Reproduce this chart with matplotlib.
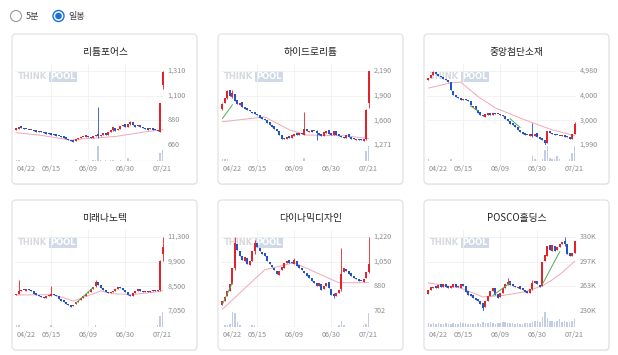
import numpy as np
import matplotlib
matplotlib.use("Agg")
import matplotlib.pyplot as plt
from matplotlib.patches import FancyBboxPatch, Circle
from matplotlib.transforms import blended_transform_factory

plt.rcParams['font.family'] = ['Noto Sans CJK KR', 'DejaVu Sans']

W, H = 618, 355

# x axis (trading days 04/22 .. 07/21)
tick_idx = [0, 14, 29, 44, 59]
tick_lbl = ["04/22", "05/15", "06/09", "06/30", "07/21"]

# 리튬포어스
lf_open = [795, 803, 818, 810, 802, 796, 788, 793, 786, 776,
           782, 771, 766, 762, 756, 753, 749, 743, 739, 733,
           726, 716, 706, 696, 692, 712, 720, 729, 733, 736,
           727, 724, 740, 760, 737, 747, 764, 750, 772, 792,
           812, 788, 802, 826, 842, 818, 843, 860, 836, 824,
           834, 816, 806, 801, 797, 803, 796, 790, 776, 1190]
lf_close = [805, 815, 812, 800, 798, 790, 792, 785, 778, 780,
            770, 765, 760, 755, 752, 748, 742, 738, 732, 725,
            715, 705, 695, 690, 712, 718, 728, 732, 735, 726,
            722, 738, 745, 735, 745, 762, 748, 770, 790, 815,
            785, 800, 828, 840, 815, 845, 862, 838, 822, 835,
            818, 808, 800, 796, 805, 795, 792, 785, 1025, 1300]
lf_wick = {33: (990, 725), 39: (822, 785), 46: (872, 840), 58: (1030, 770), 59: (1310, 1150)}
lf_vol = [1, 1, 0, 0, 0, 0, 0, 0, 0, 0, 0, 0, 0, 0, 0, 0, 0, 0, 0, 0,
          0, 0, 0, 0, 1, 0, 0, 0, 0, 0, 0, 1, 1, 11, 1, 0, 1, 0, 1, 1,
          0, 0, 1, 0, 0, 2, 1, 0, 0, 0, 0, 0, 0, 0, 0, 0, 0, 1, 6, 8]
lf_ma_x = [0, 10, 22, 26, 40, 52, 59]
lf_ma_y = [768, 745, 702, 712, 735, 775, 795]
lf_gr_x = []
lf_gr_y = []
lf_labels = ["1,310", "1,100", "880", "660"]
lf_range = (660, 1310)

# 하이드로리튬
hl_open = [1720, 1790, 1850, 1950, 1870, 1910, 1830, 1770, 1800, 1745,
           1725, 1705, 1685, 1675, 1655, 1645, 1615, 1600, 1585, 1555,
           1525, 1505, 1470, 1440, 1400, 1355, 1340, 1380, 1355, 1385,
           1415, 1395, 1425, 1400, 1470, 1435, 1455, 1440, 1450, 1425,
           1405, 1380, 1425, 1455, 1415, 1390, 1445, 1405, 1385, 1375,
           1355, 1405, 1375, 1355, 1335, 1350, 1340, 1325, 1340, 1790]
hl_close = [1780, 1860, 1940, 1880, 1920, 1820, 1780, 1790, 1740, 1720,
            1700, 1690, 1670, 1660, 1640, 1610, 1600, 1580, 1550, 1520,
            1500, 1470, 1440, 1400, 1350, 1340, 1375, 1360, 1390, 1410,
            1400, 1420, 1405, 1470, 1440, 1450, 1430, 1445, 1420, 1400,
            1380, 1430, 1450, 1410, 1395, 1440, 1400, 1380, 1370, 1355,
            1400, 1370, 1350, 1340, 1345, 1335, 1330, 1335, 1700, 2190]
hl_wick = {0: (1790, 1700), 2: (1960, 1840), 4: (1950, 1860), 33: (1680, 1395),
           38: (1455, 1330), 58: (1720, 1330), 59: (2190, 1730)}
hl_vol = [1, 1, 1, 0, 0, 0, 0, 0, 0, 0, 0, 0, 0, 0, 0, 0, 0, 0, 0, 0,
          0, 0, 0, 0, 0, 0, 0, 0, 0, 0, 0, 0, 0, 2, 0, 0, 0, 0, 0, 0,
          0, 0, 0, 0, 0, 0, 0, 0, 0, 0, 0, 0, 0, 0, 0, 0, 0, 0, 6, 9]
hl_ma_x = [0, 17, 27, 34, 50, 59]
hl_ma_y = [1560, 1620, 1460, 1395, 1385, 1350]
hl_gr_x = [0, 4]
hl_gr_y = [1600, 1770]
hl_labels = ["2,190", "1,900", "1,600", "1,271"]
hl_range = (1271, 2190)

# 중앙첨단소재
ja_open = [4600, 4700, 4820, 4950, 4850, 4790, 4720, 4660, 4610, 4540,
           4180, 4010, 3930, 3890, 3800, 3860, 3810, 3760, 3530, 3560,
           3410, 3310, 3210, 3140, 3220, 3260, 3210, 3280, 3230, 3260,
           3210, 3150, 3060, 2960, 2860, 2810, 2730, 2610, 2510, 2460,
           2410, 2370, 2450, 2350, 2460, 2310, 2260, 2190, 2080, 2570,
           2490, 2420, 2410, 2370, 2340, 2410, 2340, 2310, 2240, 2440]
ja_close = [4700, 4820, 4930, 4850, 4780, 4720, 4650, 4600, 4550, 4200,
            4000, 3920, 3880, 3820, 3850, 3800, 3760, 3600, 3550, 3400,
            3300, 3200, 3150, 3230, 3250, 3220, 3270, 3240, 3250, 3200,
            3150, 3050, 2950, 2850, 2800, 2720, 2600, 2500, 2450, 2400,
            2380, 2420, 2350, 2450, 2300, 2250, 2180, 2090, 2560, 2480,
            2430, 2400, 2380, 2350, 2400, 2330, 2300, 2250, 2450, 2850]
ja_wick = {2: (4980, 4800), 42: (2880, 2330), 47: (2120, 1990), 59: (2900, 2430)}
ja_vol = [1, 0, 0, 0, 0, 0, 0, 0, 0, 1, 0, 0, 0, 0, 0, 0, 0, 0, 0, 0,
          0, 0, 0, 0, 0, 0, 0, 0, 0, 0, 0, 0, 0, 0, 0, 0, 0, 0, 0, 0,
          0, 0, 3, 1, 0, 0, 1, 7, 10, 2, 1, 1, 3, 1, 0, 0, 0, 1, 5, 10]
ja_ma_x = [0, 9, 13, 20, 27, 38, 50, 59]
ja_ma_y = [4290, 4500, 4530, 3950, 3490, 3040, 2600, 2370]
ja_gr_x = [17, 20, np.nan, 33, 37]
ja_gr_y = [3560, 3380, np.nan, 3050, 2700]
ja_labels = ["4,980", "4,000", "3,000", "1,990"]
ja_range = (1990, 4980)

# 미래나노텍
mn_open = [7950, 8050, 8200, 8260, 8220, 8290, 8230, 8170, 8060, 7990,
           7910, 7860, 7790, 7890, 7940, 8030, 7960, 7900, 7760, 7660,
           7560, 7460, 7390, 7310, 7430, 7560, 7660, 7790, 7910, 8060,
           8160, 8310, 8460, 8710, 8560, 8360, 8260, 8160, 8090, 8130,
           8210, 8290, 8430, 8390, 8260, 8160, 7990, 7890, 8110, 8190,
           8310, 8210, 8140, 8190, 8140, 8210, 8240, 8170, 8260, 10300]
mn_close = [8050, 8200, 8250, 8230, 8280, 8240, 8180, 8050, 7980, 7900,
            7850, 7800, 7900, 7950, 8020, 7950, 7900, 7750, 7650, 7550,
            7450, 7380, 7300, 7420, 7550, 7650, 7780, 7900, 8050, 8150,
            8300, 8450, 8700, 8550, 8350, 8250, 8150, 8100, 8120, 8200,
            8300, 8420, 8380, 8250, 8150, 7980, 7900, 8100, 8200, 8300,
            8200, 8150, 8180, 8150, 8200, 8230, 8180, 8250, 9950, 10750]
mn_wick = {1: (8830, 8000), 14: (8500, 7950), 32: (8850, 8450), 58: (10000, 8200), 59: (11300, 9900)}
mn_vol = [1, 1, 0, 0, 0, 0, 0, 0, 0, 0, 0, 0, 0, 0, 1, 0, 0, 0, 0, 0,
          0, 0, 0, 0, 0, 0, 0, 0, 0, 0, 0, 0, 1, 0, 0, 0, 0, 0, 0, 0,
          0, 0, 0, 0, 0, 0, 0, 0, 0, 0, 0, 0, 0, 0, 0, 0, 0, 1, 7, 10]
mn_ma_x = [0, 15, 23, 34, 40, 47, 57, 59]
mn_ma_y = [7970, 7990, 7620, 8200, 8030, 8000, 8150, 8220]
mn_gr_x = [24, 31]
mn_gr_y = [7500, 8400]
mn_labels = ["11,300", "9,900", "8,500", "7,050"]
mn_range = (7050, 11300)

# 다이나믹디자인
dd_open = [745, 770, 805, 845, 890, 1000, 1170, 1125, 1085, 1055,
           1075, 1025, 1055, 1120, 1175, 1145, 1115, 1105, 1085, 1045,
           1025, 1005, 985, 955, 990, 1005, 1035, 1060, 1045, 1030,
           1055, 1025, 1005, 985, 965, 955, 935, 910, 895, 875,
           890, 855, 875, 905, 855, 820, 810, 825, 855, 975,
           995, 985, 965, 945, 935, 920, 915, 905, 930, 975]
dd_close = [775, 800, 840, 890, 1000, 1180, 1130, 1090, 1060, 1080,
            1030, 1050, 1120, 1180, 1150, 1120, 1100, 1090, 1050, 1030,
            1010, 990, 960, 985, 1010, 1040, 1055, 1040, 1035, 1060,
            1020, 1000, 990, 970, 950, 930, 915, 900, 880, 895,
            850, 880, 900, 860, 815, 805, 830, 850, 960, 1000,
            980, 960, 950, 935, 925, 915, 910, 925, 975, 1030]
dd_wick = {5: (1220, 990), 13: (1200, 1100), 29: (1075, 1030), 45: (830, 790),
           48: (1143, 845), 59: (1220, 965)}
dd_vol = [0, 1, 1, 2, 10, 9, 3, 1, 0, 0, 0, 0, 1, 1, 0, 0, 0, 0, 0, 0,
          0, 0, 0, 0, 0, 0, 0, 0, 0, 0, 0, 0, 0, 0, 0, 0, 0, 0, 0, 0,
          0, 0, 0, 0, 0, 0, 0, 1, 4, 1, 0, 0, 0, 0, 0, 0, 0, 1, 2, 9]
dd_ma_x = [0, 17, 29, 47, 59]
dd_ma_y = [715, 990, 1040, 900, 900]
dd_gr_x = [0, 4]
dd_gr_y = [750, 900]
dd_labels = ["1,220", "1,050", "880", "702"]
dd_range = (702, 1220)

# POSCO홀딩스 (천원)
ph_open = [253, 258, 261, 264, 261, 266, 262, 267, 264, 261,
           263, 267, 264, 261, 267, 264, 257, 253, 251, 248,
           246, 244, 241, 235, 243, 250, 257, 261, 253, 249,
           254, 261, 266, 270, 266, 264, 261, 264, 261, 259,
           257, 255, 260, 268, 271, 265, 264, 297, 305, 319,
           311, 318, 313, 316, 321, 324, 320, 308, 304, 309]
ph_close = [258, 262, 263, 261, 265, 263, 266, 263, 261, 264,
            266, 263, 262, 267, 264, 256, 252, 250, 247, 245,
            243, 240, 234, 243, 250, 257, 261, 252, 248, 254,
            261, 266, 269, 265, 264, 262, 263, 260, 259, 256,
            255, 260, 268, 270, 266, 262, 296, 306, 318, 312,
            319, 311, 316, 321, 323, 320, 307, 304, 309, 324]
ph_wick = {22: (236, 230), 32: (274, 265), 42: (272, 258), 55: (330, 318)}
ph_vol = [3, 2, 3, 2, 3, 2, 2, 3, 2, 2, 3, 2, 2, 4, 3, 3, 2, 2, 2, 2,
          3, 2, 4, 3, 3, 4, 3, 2, 3, 3, 4, 4, 3, 3, 3, 2, 3, 2, 2, 3,
          3, 3, 4, 5, 5, 4, 8, 12, 7, 5, 5, 4, 5, 6, 4, 5, 4, 4, 5, 6]
ph_ma_x = [0, 13, 22, 30, 39, 46, 50, 54, 59]
ph_ma_y = [268, 261, 249, 251, 256, 264, 272, 282, 297]
ph_gr_x = [26, 33, np.nan, 46, 53]
ph_gr_y = [251, 268, np.nan, 266, 310]
ph_labels = ["330K", "297K", "263K", "230K"]
ph_range = (230, 330)

charts = [
    ("리튬포어스", lf_open, lf_close, lf_wick, lf_vol, lf_ma_x, lf_ma_y, lf_gr_x, lf_gr_y, lf_labels, lf_range),
    ("하이드로리튬", hl_open, hl_close, hl_wick, hl_vol, hl_ma_x, hl_ma_y, hl_gr_x, hl_gr_y, hl_labels, hl_range),
    ("중앙첨단소재", ja_open, ja_close, ja_wick, ja_vol, ja_ma_x, ja_ma_y, ja_gr_x, ja_gr_y, ja_labels, ja_range),
    ("미래나노텍", mn_open, mn_close, mn_wick, mn_vol, mn_ma_x, mn_ma_y, mn_gr_x, mn_gr_y, mn_labels, mn_range),
    ("다이나믹디자인", dd_open, dd_close, dd_wick, dd_vol, dd_ma_x, dd_ma_y, dd_gr_x, dd_gr_y, dd_labels, dd_range),
    ("POSCO홀딩스", ph_open, ph_close, ph_wick, ph_vol, ph_ma_x, ph_ma_y, ph_gr_x, ph_gr_y, ph_labels, ph_range),
]

RED = '#e4222a'
BLUE = '#2453c9'
GRID = '#f0f0f0'
LBL = '#8c8c8c'

fig = plt.figure(figsize=(W / 100, H / 100), dpi=100)
fig.patch.set_facecolor('white')

# background layer in pixel coords
bg = fig.add_axes([0, 0, 1, 1])
bg.set_xlim(0, W)
bg.set_ylim(H, 0)
bg.axis('off')

# radio buttons
bg.add_patch(Circle((16, 16), 5.5, fc='white', ec='#9a9a9a', lw=0.8))
bg.text(26, 16.5, "5분", fontsize=6.5, color='#444444', va='center')
bg.add_patch(Circle((58.5, 16), 5.5, fc='white', ec='#1a6fdc', lw=1.0))
bg.add_patch(Circle((58.5, 16), 3.3, fc='#1a6fdc', ec='none'))
bg.text(68, 16.5, "일봉", fontsize=6.5, color='#444444', va='center')


def px_axes(l, t, w, h):
    return fig.add_axes([l / W, 1 - (t + h) / H, w / W, h / H])


card_x = [12, 218, 424]
card_y = [34, 200]

for k, (name, op, cl, wick, vol, ma_x, ma_y, gr_x, gr_y, labels, (lo, hi)) in enumerate(charts):
    cx = card_x[k % 3]
    cy = card_y[k // 3]

    bg.add_patch(FancyBboxPatch((cx + 0.6, cy + 1.0), 185, 150,
                                boxstyle="round,pad=0,rounding_size=4",
                                fc='#f0f0f0', ec='none', zorder=0))
    bg.add_patch(FancyBboxPatch((cx, cy), 185, 150,
                                boxstyle="round,pad=0,rounding_size=4",
                                fc='white', ec='#e0e0e0', lw=0.8, zorder=1))
    bg.text(cx + 93, cy + 18, name, ha='center', va='center',
            fontsize=7, color='#222222', zorder=2)

    # watermark
    bg.text(cx + 5.5, cy + 42.5, "THINK", fontsize=6, fontweight='bold',
            color='#d6dae0', va='center', family='DejaVu Sans', zorder=2)
    bg.text(cx + 38.5, cy + 42.5, "POOL", fontsize=6, fontweight='bold',
            color='white', va='center', family='DejaVu Sans', zorder=2,
            bbox=dict(fc='#cfd9e7', ec='none', pad=0.8))

    # price area
    ax = px_axes(cx + 3, cy + 30, 149, 81)
    per_px = (hi - lo) / 74.0
    ax.set_ylim(lo, hi + per_px * 7)
    ax.set_xlim(-0.6, 59.6)
    ax.axis('off')

    levels = np.linspace(hi, lo, 4)
    for v in levels[:-1]:
        ax.axhline(v, color=GRID, lw=0.6, zorder=0)
    ax.axhline(lo, color='#d6d6d6', lw=0.7, zorder=0)
    for t in tick_idx[1:4]:
        ax.axvline(t, color=GRID, lw=0.6, zorder=0)

    tr = blended_transform_factory(ax.transAxes, ax.transData)
    for v, s in zip(levels, labels):
        ax.text(1.025, v, s, transform=tr, fontsize=5.2, color=LBL,
                va='center', ha='left', clip_on=False)

    x = np.arange(len(cl))
    o = np.array(op, float)
    c = np.array(cl, float)
    colors = [RED if cc >= oo else BLUE for oo, cc in zip(o, c)]
    highs = np.maximum(o, c)
    lows = np.minimum(o, c)
    for i, (wh, wl) in wick.items():
        highs[i] = max(highs[i], wh)
        lows[i] = min(lows[i], wl)
    ax.vlines(x, lows, highs, colors=colors, lw=0.6, zorder=3)
    body = np.maximum(np.abs(c - o), per_px * 1.2)
    ax.bar(x, body, bottom=np.minimum(o, c), width=0.8, color=colors,
           lw=0, zorder=4)

    ax.plot(ma_x, ma_y, color='#f3a7b8', lw=0.7, zorder=2)
    if len(gr_x):
        ax.plot(gr_x, gr_y, color='#4caf50', lw=0.7, zorder=5)

    # volume area
    av = px_axes(cx + 3, cy + 111, 149, 16)
    av.set_xlim(-0.6, 59.6)
    av.set_ylim(0, max(vol) * 1.05)
    for s in av.spines.values():
        s.set_visible(False)
    av.set_yticks([])
    for t in tick_idx[1:4]:
        av.axvline(t, color=GRID, lw=0.6, zorder=0)
    av.bar(x, vol, width=0.62, color='#c2cce2', lw=0, zorder=2)
    av.axhline(0, color='#d0d0d0', lw=0.8, zorder=3)
    av.set_xticks(tick_idx)
    av.set_xticklabels(tick_lbl)
    av.tick_params(axis='x', length=0, pad=3.2, labelsize=5.2, labelcolor=LBL)
    av.get_xticklabels()[0].set_ha('left')
    av.get_xticklabels()[0].set_x(-0.4)

fig.savefig("out.png", dpi=100, facecolor='white')
